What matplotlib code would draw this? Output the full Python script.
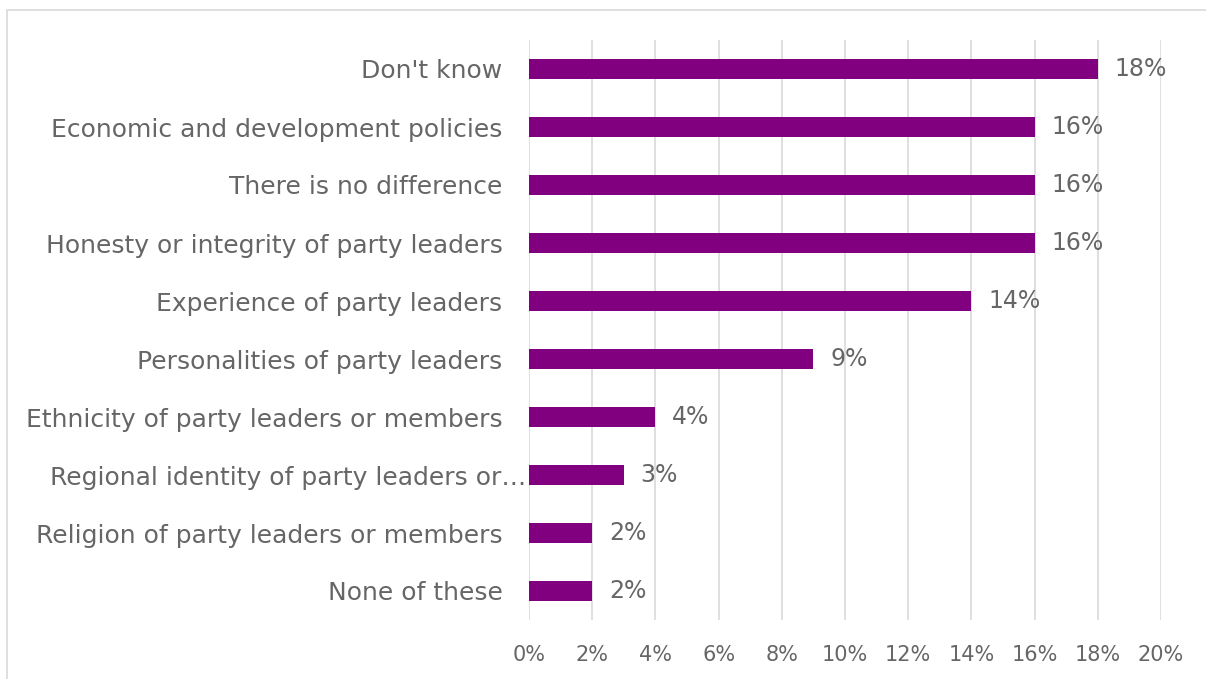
import numpy as np
import matplotlib
matplotlib.use("Agg")
import matplotlib.pyplot as plt
from matplotlib.patches import Rectangle
from matplotlib.ticker import FuncFormatter
import matplotlib.transforms as mtransforms

# ---------------- data ----------------
CATEGORIES = [
    "Don't know",
    "Economic and development policies",
    "There is no difference",
    "Honesty or integrity of party leaders",
    "Experience of party leaders",
    "Personalities of party leaders",
    "Ethnicity of party leaders or members",
    "Regional identity of party leaders or\u2026",
    "Religion of party leaders or members",
    "None of these",
]
SHARES = [18, 16, 16, 16, 14, 9, 4, 3, 2, 2]   # percent
X_TICKS = [0, 2, 4, 6, 8, 10, 12, 14, 16, 18, 20]

BAR_COLOR = "#800080"
TEXT_COLOR = "#666666"
GRID_COLOR = "#d9d9d9"
FONT = ["DejaVu Sans"]
# --------------------------------------

plt.rcParams["font.family"] = FONT

W, H = 1206, 679
fig = plt.figure(figsize=(W / 100, H / 100), dpi=100)
fig.patch.set_facecolor("white")

# chart frame
fig.patches.append(Rectangle((7 / W, -0.05), 1.2, 1 - 10 / H + 0.05,
                             transform=fig.transFigure, fill=False,
                             edgecolor=GRID_COLOR, linewidth=1.2))

ax = fig.add_axes([529 / W, 1 - 620 / H, (1161 - 529) / W, (620 - 40) / H])
y = np.arange(len(CATEGORIES))
ax.barh(y, SHARES, height=0.34, color=BAR_COLOR, zorder=3)
ax.set_xlim(0, 20)
ax.set_ylim(len(CATEGORIES) - 0.5, -0.5)

ax.set_xticks(X_TICKS)
ax.xaxis.set_major_formatter(FuncFormatter(lambda v, _: f"{v:.0f}%"))
ax.tick_params(axis="x", length=0, pad=18, labelsize=15, labelcolor=TEXT_COLOR)
ax.grid(axis="x", color=GRID_COLOR, linewidth=1.2, zorder=0)

ax.set_yticks(y)
ax.set_yticklabels(CATEGORIES)
ax.tick_params(axis="y", length=0, pad=19, labelsize=18, labelcolor=TEXT_COLOR)
# the truncated label runs up to the axis line
for lbl in ax.get_yticklabels():
    if lbl.get_text().endswith("\u2026"):
        lbl.set_transform(lbl.get_transform() +
                          mtransforms.ScaledTranslation(24 / 100, 0, fig.dpi_scale_trans))

for s in ax.spines.values():
    s.set_visible(False)

for yi, v in zip(y, SHARES):
    ax.annotate(f"{v}%", (v, yi), xytext=(12, 0), textcoords="offset points",
                va="center", ha="left", fontsize=17, color=TEXT_COLOR)

fig.savefig("out.png", dpi=100, facecolor="white")
